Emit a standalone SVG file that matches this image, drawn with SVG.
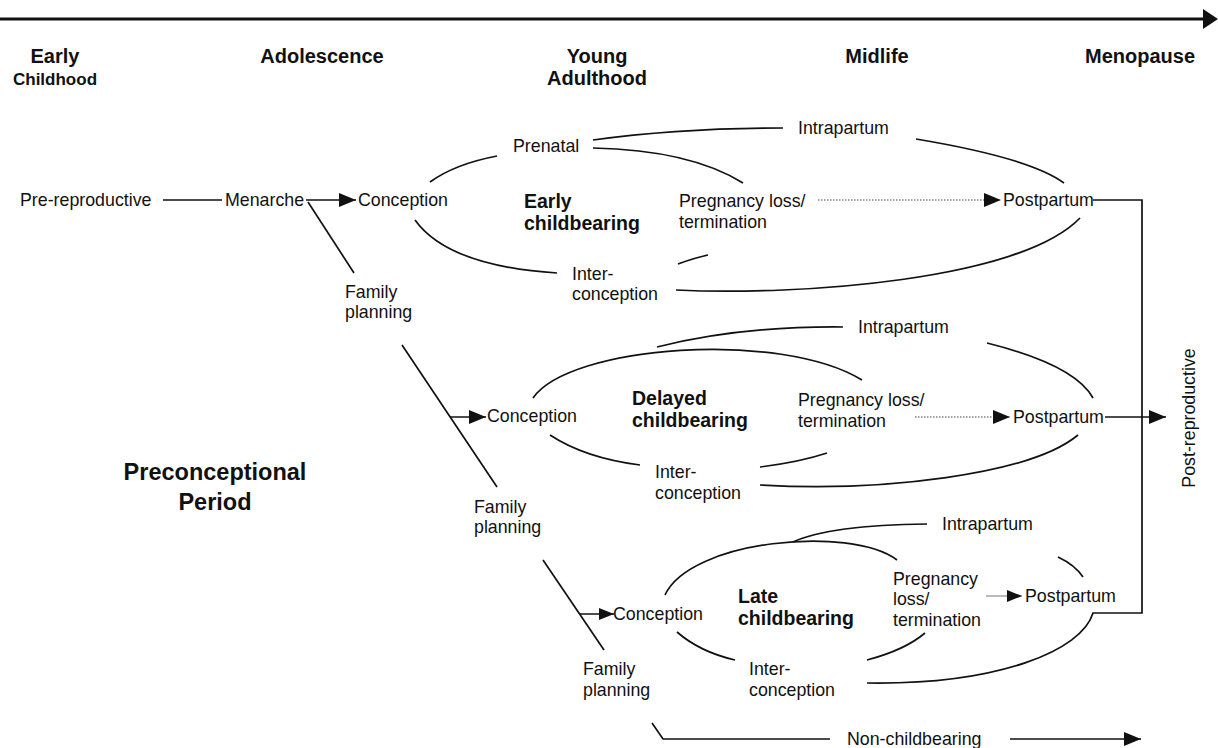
<svg xmlns="http://www.w3.org/2000/svg" width="1218" height="748" viewBox="0 0 1218 748">
<style>
text{font-family:"Liberation Sans",Arial,sans-serif;fill:#111}
.r{font-size:17.8px}
.h{font-size:20px;font-weight:bold;text-anchor:middle}
.b{font-size:19.5px;font-weight:bold}
.c{fill:none;stroke:#111;stroke-width:1.7}
.d{fill:none;stroke:#444;stroke-width:1.2;stroke-dasharray:1.5 1.5}
</style>
<defs>
<marker id="ah" markerWidth="17" markerHeight="14" refX="17" refY="7" orient="auto" markerUnits="userSpaceOnUse"><path d="M0,0 L17,7 L0,14 Z" fill="#111"/></marker>
<marker id="ahs" markerWidth="15" markerHeight="12" refX="15" refY="6" orient="auto" markerUnits="userSpaceOnUse"><path d="M0,0 L15,6 L0,12 Z" fill="#111"/></marker>
</defs>
<g id="axis">
<line x1="0" y1="19" x2="1204" y2="19" stroke="#111" stroke-width="3.2"/>
<path d="M1203,9 L1218,19 L1203,29 Z" fill="#111"/>
</g>
<g id="headers">
<text class="h" x="55" y="63">Early</text>
<text class="h" x="55" y="85" style="font-size:17px">Childhood</text>
<text class="h" x="322" y="63">Adolescence</text>
<text class="h" x="597" y="63">Young</text>
<text class="h" x="597" y="85">Adulthood</text>
<text class="h" x="877" y="63">Midlife</text>
<text class="h" x="1140" y="63">Menopause</text>
</g>
<g id="connectors">
<line class="c" x1="163" y1="200" x2="222" y2="200"/>
<path class="c" d="M306,200 H356" marker-end="url(#ah)"/>
<line class="c" x1="308" y1="202" x2="354" y2="273"/>
<line class="c" x1="402" y1="345" x2="497" y2="487"/>
<path class="c" d="M450,417 H486" marker-end="url(#ah)"/>
<line class="c" x1="543" y1="560" x2="604" y2="650"/>
<path class="c" d="M580,614 H614" marker-end="url(#ahs)"/>
<path class="c" d="M652,723 L663,739 H830"/>
<path class="c" d="M1010,739 H1141" marker-end="url(#ah)"/>
<path class="c" d="M430,182 Q455,164 497,156"/>
<path class="c" d="M593,140 Q680,128 783,128"/>
<path class="c" d="M593,148 Q690,150 743,183"/>
<path class="c" d="M916,139 Q1030,158 1064,183"/>
<path class="c" d="M415,220 Q448,266 557,273"/>
<path class="c" d="M678,264 Q694,258 708,255"/>
<path class="c" d="M676,290 C800,296 1020,280 1080,218"/>
<path class="d" d="M818,200 H1001" marker-end="url(#ah)"/>
<path class="c" d="M533,398 C570,345 780,330 862,380"/>
<path class="c" d="M657,347 Q740,326 843,327"/>
<path class="c" d="M550,435 Q585,458 640,465"/>
<path class="c" d="M760,467 Q800,462 827,453"/>
<path class="c" d="M760,485 C880,492 1030,475 1078,435"/>
<path class="c" d="M987,343 Q1075,365 1093,398"/>
<path class="d" d="M915,417 H1010" marker-end="url(#ah)"/>
<path class="c" d="M1105,417 H1166" marker-end="url(#ah)"/>
<path class="c" d="M665,595 C690,540 850,525 897,560"/>
<path class="c" d="M793,542 Q830,525 927,524"/>
<path class="c" d="M677,632 Q700,652 735,660"/>
<path class="c" d="M867,660 Q905,650 925,633"/>
<path class="c" d="M1058,557 Q1075,565 1083,577"/>
<path d="M986,596 H1022" fill="none" stroke="#777" stroke-width="1.2" marker-end="url(#ahs)"/>
<path class="c" d="M1093,200 H1142 V613 H1093 C1082,650 1000,685 867,683"/>
</g>
<g id="row1">
<text class="r" x="20" y="206">Pre-reproductive</text>
<text class="r" x="225" y="206">Menarche</text>
<text class="r" x="358" y="206">Conception</text>
<text class="r" x="345" y="298">Family</text>
<text class="r" x="345" y="318">planning</text>
</g>
<g id="early-cycle">
<text class="r" x="513" y="152">Prenatal</text>
<text class="r" x="798" y="134">Intrapartum</text>
<text class="b" x="524" y="208">Early</text>
<text class="b" x="524" y="230">childbearing</text>
<text class="r" x="679" y="207">Pregnancy loss/</text>
<text class="r" x="679" y="228">termination</text>
<text class="r" x="1003" y="206">Postpartum</text>
<text class="r" x="572" y="280">Inter-</text>
<text class="r" x="572" y="300">conception</text>
</g>
<g id="delayed-cycle">
<text class="r" x="858" y="333">Intrapartum</text>
<text class="r" x="487" y="422">Conception</text>
<text class="b" x="632" y="405">Delayed</text>
<text class="b" x="632" y="427">childbearing</text>
<text class="r" x="798" y="406">Pregnancy loss/</text>
<text class="r" x="798" y="427">termination</text>
<text class="r" x="1013" y="423">Postpartum</text>
<text class="r" x="655" y="478">Inter-</text>
<text class="r" x="655" y="499">conception</text>
<text class="r" x="474" y="513">Family</text>
<text class="r" x="474" y="533">planning</text>
</g>
<g id="late-cycle">
<text class="r" x="942" y="530">Intrapartum</text>
<text class="r" x="613" y="620">Conception</text>
<text class="b" x="738" y="603">Late</text>
<text class="b" x="738" y="625">childbearing</text>
<text class="r" x="893" y="585">Pregnancy</text>
<text class="r" x="893" y="605">loss/</text>
<text class="r" x="893" y="626">termination</text>
<text class="r" x="1025" y="602">Postpartum</text>
<text class="r" x="749" y="675">Inter-</text>
<text class="r" x="749" y="696">conception</text>
<text class="r" x="583" y="675">Family</text>
<text class="r" x="583" y="696">planning</text>
<text class="r" x="847" y="745">Non-childbearing</text>
</g>
<g id="preconceptional">
<text x="215" y="480" style="font-size:23.5px;font-weight:bold;text-anchor:middle">Preconceptional</text>
<text x="215" y="510" style="font-size:23.5px;font-weight:bold;text-anchor:middle">Period</text>
</g>
<g id="post-reproductive">
<text class="r" transform="translate(1195,418) rotate(-90)" text-anchor="middle">Post-reproductive</text>
</g>
</svg>
